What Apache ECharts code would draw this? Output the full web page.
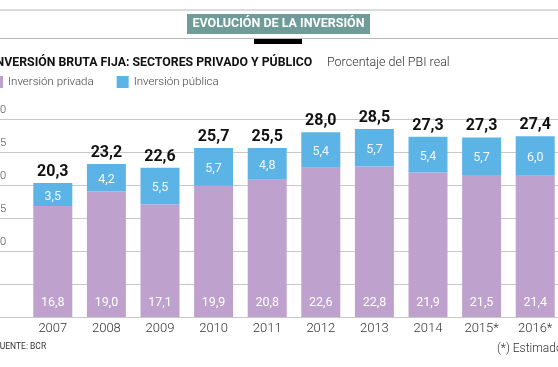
<!DOCTYPE html>
<html>
<head>
<meta charset="utf-8">
<script src="https://cdn.jsdelivr.net/npm/echarts@6/dist/echarts.min.js"></script>
<style>html,body{margin:0;padding:0;background:#fff}#c{width:558px;height:367px}</style>
</head>
<body>
<div id="c"></div>
<script>
const categories = ['2007','2008','2009','2010','2011','2012','2013','2014','2015*','2016*'];
const privada = [16.8, 19.0, 17.1, 19.9, 20.8, 22.6, 22.8, 21.9, 21.5, 21.4];
const publica = [3.5, 4.2, 5.5, 5.7, 4.8, 5.4, 5.7, 5.4, 5.7, 6.0];
const totals = [20.3, 23.2, 22.6, 25.7, 25.5, 28.0, 28.5, 27.3, 27.3, 27.4];
const yTicks = [0, 5, 10, 15, 20, 25, 30];

const PURPLE = '#BFA1CE';
const BLUE = '#5CB4E6';
const fmt = v => v.toFixed(1).replace('.', ',');

const chart = echarts.init(document.getElementById('c'));
chart.setOption({
  animation: false,
  backgroundColor: '#fff',
  textStyle: { fontFamily: 'Roboto' },
  graphic: [
    { type: 'line', shape: { x1: 0, y1: 10, x2: 558, y2: 10 }, style: { stroke: '#b8b8b8', lineWidth: 1 } },
    { type: 'line', shape: { x1: 0, y1: 38.5, x2: 558, y2: 38.5 }, style: { stroke: '#b8b8b8', lineWidth: 1 } },
    { type: 'rect', shape: { x: 254, y: 39, width: 48, height: 5 }, style: { fill: '#000' } },
    { type: 'rect', shape: { x: 187, y: 14, width: 183, height: 20 }, style: { fill: '#6F9C98' } },
    { type: 'text', x: 278.5, y: 24, style: { text: 'EVOLUCIÓN DE LA INVERSIÓN', fill: '#fff', font: 'bold 12.5px Roboto', align: 'center', verticalAlign: 'middle' } },
    { type: 'text', x: -8, y: 63, style: { text: 'INVERSIÓN BRUTA FIJA: SECTORES PRIVADO Y PÚBLICO', fill: '#111', font: 'bold 12.3px Roboto', verticalAlign: 'middle' } },
    { type: 'text', x: 327, y: 63, style: { text: 'Porcentaje del PBI real', fill: '#333', font: '300 12.5px Roboto', verticalAlign: 'middle' } },
    { type: 'text', x: -5, y: 347, style: { text: 'FUENTE: BCR', fill: '#333', font: '8.5px Roboto', verticalAlign: 'middle' } },
    { type: 'text', x: 497, y: 349, style: { text: '(*) Estimado', fill: '#333', font: '300 12px Roboto', verticalAlign: 'middle' } }
  ],
  legend: {
    left: -9, top: 76, padding: 0,
    itemWidth: 12, itemHeight: 12, itemGap: 23,
    icon: 'rect',
    textStyle: { fontSize: 11.5, color: '#444', fontWeight: 300 },
    data: ['Inversión privada', 'Inversión pública']
  },
  grid: [
    { left: 0, right: 0, top: 119, height: 198, outerBoundsMode: 'none', containLabel: false },
    { left: 26, width: 536, top: 119, height: 198, outerBoundsMode: 'none', containLabel: false }
  ],
  xAxis: [
    { gridIndex: 0, type: 'category', data: categories, show: false },
    { gridIndex: 1, type: 'category', data: categories,
      axisLine: { show: false }, axisTick: { show: false },
      axisLabel: { color: '#333', fontSize: 13, fontWeight: 300, margin: 5, fontFamily: 'Roboto' } }
  ],
  yAxis: [
    { gridIndex: 0, type: 'value', min: yTicks[0], max: yTicks[yTicks.length - 1], interval: 5,
      axisLine: { show: false }, axisTick: { show: false },
      splitLine: { lineStyle: { color: '#c8c8c8', width: 1 } },
      axisLabel: { color: '#444', fontSize: 11, fontWeight: 300, align: 'left', margin: 6, verticalAlign: 'bottom', padding: [0, 0, 3, 0] } },
    { gridIndex: 1, type: 'value', min: yTicks[0], max: yTicks[yTicks.length - 1], interval: 5, show: false, splitLine: { show: false } }
  ],
  series: [
    { name: 'Inversión privada', type: 'bar', stack: 's', xAxisIndex: 1, yAxisIndex: 1,
      data: privada, barWidth: 39, itemStyle: { color: PURPLE },
      label: { show: true, position: 'insideBottom', distance: 8, color: '#fff', fontSize: 12.5, formatter: p => fmt(p.value) } },
    { name: 'Inversión pública', type: 'bar', stack: 's', xAxisIndex: 1, yAxisIndex: 1,
      data: publica, barWidth: 39, itemStyle: { color: BLUE },
      label: { show: true, position: 'inside', offset: [0, 2], color: '#f4f8fb', fontSize: 12.5, formatter: p => fmt(p.value) } },
    { name: 'Total', type: 'bar', stack: 's', xAxisIndex: 1, yAxisIndex: 1,
      data: totals.map(() => 0), barWidth: 39, itemStyle: { color: 'transparent' },
      label: { show: true, position: 'top', distance: 3, color: '#111', fontSize: 16, fontWeight: 'bold', formatter: p => fmt(totals[p.dataIndex]) } }
  ]
});
</script>
</body>
</html>
